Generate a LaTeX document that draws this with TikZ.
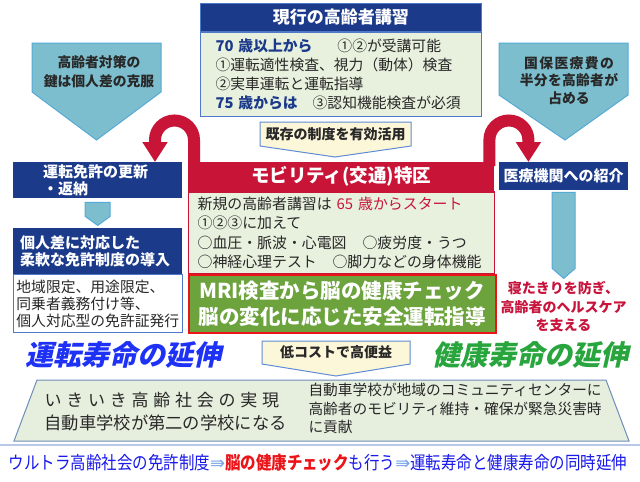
\documentclass[tikz,border=0pt]{standalone}
\usepackage{fontspec}
\setmainfont{Noto Sans CJK JP}
\newfontfamily\slantjp{Noto Sans CJK JP}[FakeSlant=0.22]
\newfontfamily\narrowjp{Noto Sans CJK JP}[FakeStretch=0.86]
\newfontfamily\arrowfont{DejaVu Sans}
\usetikzlibrary{arrows.meta}

\definecolor{navy}{RGB}{28,58,138}
\definecolor{blueedge}{RGB}{80,120,200}
\definecolor{lightgreen}{RGB}{232,241,222}
\definecolor{darktext}{RGB}{40,40,40}
\definecolor{crim}{RGB}{200,20,55}
\definecolor{crimtext}{RGB}{200,20,60}
\definecolor{mrigreen}{RGB}{108,163,60}
\definecolor{brightred}{RGB}{235,20,25}
\definecolor{tealfill}{RGB}{125,190,206}
\definecolor{tealedge}{RGB}{85,170,215}
\definecolor{paleyellow}{RGB}{253,247,218}
\definecolor{calloutedge}{RGB}{95,140,210}
\definecolor{bigblue}{RGB}{30,50,245}
\definecolor{biggreen}{RGB}{40,165,60}
\definecolor{trapfill}{RGB}{230,239,222}
\definecolor{trapedge}{RGB}{110,140,185}
\definecolor{linkblue}{RGB}{25,25,235}
\definecolor{arrowblue}{RGB}{120,165,230}
\definecolor{sepblue}{RGB}{185,200,230}

\tikzstyle{navybox} = [anchor=north west, fill=navy, text=white, inner ysep=0pt, font=\bfseries\fontsize{15}{17.5}\selectfont]
\tikzstyle{plainbox} = [anchor=north west, inner ysep=0pt, align=left, text=darktext]
\tikzstyle{tealarrow} = [fill=tealfill, draw=tealedge, line width=1pt]
\tikzstyle{callout} = [fill=paleyellow, draw=calloutedge, line width=1pt]
\tikzstyle{uarrow} = [draw=crim, line width=12pt, -{Triangle[width=24pt,length=20pt]}]
\tikzstyle{note} = [text=darktext, align=center, font=\bfseries\fontsize{13.8}{19}\selectfont]

\begin{document}
\begin{tikzpicture}[x=1pt,y=-1pt]
\useasboundingbox (0,0) rectangle (640,482);
\fill[white] (0,0) rectangle (640,482);

% current course for elderly drivers
\node[navybox, minimum width=281pt, minimum height=28pt, draw=blueedge, line width=0.8pt,
      font=\bfseries\fontsize{17}{20}\selectfont] (koshuhead) at (200,3) {現行の高齢者講習};
\node[plainbox, fill=lightgreen, draw=blueedge, line width=1pt, minimum height=84pt,
      text width=251pt, inner xsep=15pt, font=\fontsize{14.8}{19}\selectfont] (koshubody) at (koshuhead.south west)
  {{\color{navy}\bfseries 70 歳以上から}\hspace{25pt}①②が受講可能\\
   ①運転適性検査、視力（動体）検査\\
   ②実車運転と運転指導\\
   {\color{navy}\bfseries 75 歳からは}\hspace{15pt}③認知機能検査が必須};

\draw[callout] (260,122) -- (411,122) -- (411,146) -- (335,157) -- (260,146) -- cycle;
\node[note, font=\bfseries\fontsize{14}{16}\selectfont] (kizon) at (335.5,134) {既存の制度を有効活用};

% side pentagons
\draw[tealarrow] (32,43) -- (161,43) -- (161,92) -- (96.5,140) -- (32,92) -- cycle;
\node[note] (kagi) at (99,71.5) {高齢者対策の\\鍵は個人差の克服};
\draw[tealarrow] (499,43) -- (628,43) -- (628,95) -- (565,140) -- (499,95) -- cycle;
\node[note, font=\bfseries\fontsize{13.8}{17.5}\selectfont] (kokuho) at (569,80.5)
  {\addfontfeature{LetterSpace=10}国保医療費の\\\addfontfeature{LetterSpace=2}半分を高齢者が\\占める};

% mobility special zone
\node[navybox, minimum width=169pt, minimum height=36pt, text width=109pt, inner xsep=30pt,
      align=left, font=\bfseries\fontsize{15}{17}\selectfont] (menkyo) at (13,162) {運転免許の更新\\・返納};
\node[navybox, minimum width=129pt, minimum height=28pt, inner xsep=0pt] (iryo) at (499,162) {医療機関への紹介};
\node[anchor=north west, fill=crim, minimum width=306pt, minimum height=29pt, inner sep=0pt, text=white,
      font=\bfseries\fontsize{18.5}{20}\selectfont] (tokkuhead) at (188,162) {モビリティ(交通)特区};

\draw[uarrow] (tokkuhead.north west) ++(6,4) -- ++(0,-26)
  arc[start angle=0, end angle=-180, radius=19.5] -- ++(0,22);
\draw[uarrow] (tokkuhead.north east) ++(-5,4) -- ++(0,-26)
  arc[start angle=180, end angle=360, radius=19.5] -- ++(0,22);

\node[plainbox, fill=lightgreen, draw=crim, line width=1.2pt, minimum height=82pt,
      text width=288pt, inner xsep=9pt, font=\fontsize{14.9}{19.3}\selectfont] (tokkubody) at (tokkuhead.south west)
  {新規の高齢者講習は {\color{crimtext}65 歳からスタート}\\
   ①②③に加えて\\
   \makebox[165pt][l]{○血圧・脈波・心電図}○疲労度・うつ\\
   \makebox[135pt][l]{○神経心理テスト}○脚力などの身体機能};
\node[anchor=north west, fill=mrigreen, draw=brightred, line width=2pt, minimum width=307pt,
      minimum height=58pt, inner sep=0pt, align=center, text=white,
      font=\bfseries\fontsize{20.5}{26}\selectfont] (mri) at (187.5,273.5)
  {MRI検査から脳の健康チェック\\脳の変化に応じた安全運転指導};

% left column
\draw[tealarrow] (menkyo.south) ++(-12.5,4) -- ++(25,0) -- ++(0,14) -- ++(-12.5,9) -- ++(-12.5,-9) -- cycle;
\node[navybox, minimum width=169pt, minimum height=46pt, text width=155pt, inner xsep=7pt,
      align=left] (kojinsa) at (13,228) {個人差に対応した\\柔軟な免許制度の導入};
\node[plainbox, fill=white, draw=blueedge, line width=0.8pt, minimum height=58pt,
      text width=163pt, inner xsep=3pt, font=\fontsize{14.8}{17}\selectfont] (gentei) at (kojinsa.south west)
  {地域限定、用途限定、\\同乗者義務付け等、\\個人対応型の免許証発行};

% right column
\draw[tealarrow] (iryo.south) ++(-11.5,2) -- ++(23,0) -- ++(0,76) -- ++(-11.5,10) -- ++(-11.5,-10) -- cycle;
\node[note, text=crimtext, font=\bfseries\fontsize{14}{18.5}\selectfont] (netakiri) at (563.5,307)
  {寝たきりを防ぎ、\\高齢者のヘルスケア\\を支える};

% outcome
\node[text=bigblue, font=\slantjp\bfseries\fontsize{28}{30}\selectfont] (unten) at (123,355) {運転寿命の延伸};
\node[text=biggreen, font=\slantjp\bfseries\fontsize{28}{30}\selectfont] (kenko) at (530,355) {健康寿命の延伸};
\draw[callout] (262,341) -- (410,341) -- (410,364) -- (336,376) -- (262,364) -- cycle;
\node[note, font=\bfseries\fontsize{14}{16}\selectfont] (teikosuto) at (336,352.5) {低コストで高便益};

\draw[fill=trapfill, draw=trapedge, line width=1pt] (37,380) -- (606,380) -- (629,441) -- (14,441) -- cycle;
\node[anchor=west, text=darktext, font=\fontsize{17}{20}\selectfont] (ikiiki) at (41,400)
  {\addfontfeature{LetterSpace=28}いきいき高齢社会の実現};
\node[anchor=west, text=darktext, font=\fontsize{17.3}{20}\selectfont] (gakko) at (41,423) {自動車学校が第二の学校になる};
\node[anchor=west, align=left, text=darktext, font=\fontsize{14.7}{18.5}\selectfont] (community) at (305,408.5)
  {自動車学校が地域のコミュニティセンターに\\高齢者のモビリティ維持・確保が緊急災害時\\に貢献};

\draw[sepblue, line width=2.5pt] (0,445) -- (640,445);
\node[text=linkblue, font=\narrowjp\fontsize{18}{20}\selectfont] (summary) at (318,463)
  {ウルトラ高齢社会の免許制度{\arrowfont\color{arrowblue}⇛}{\color{brightred}\bfseries 脳の健康チェック}も行う{\arrowfont\color{arrowblue}⇛}運転寿命と健康寿命の同時延伸};
\end{tikzpicture}
\end{document}
